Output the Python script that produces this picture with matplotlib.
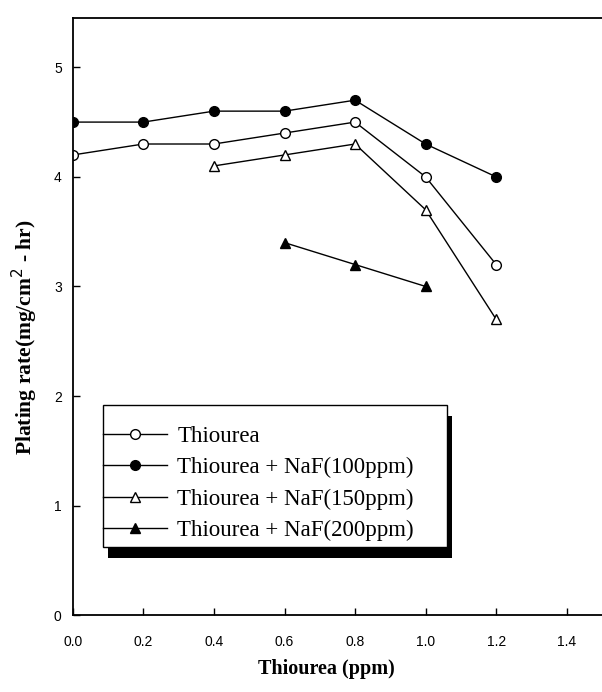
import matplotlib
matplotlib.use('Agg')
import matplotlib.pyplot as plt
from matplotlib.patches import Rectangle

x_all = [0.0, 0.2, 0.4, 0.6, 0.8, 1.0, 1.2]
thiourea = [4.2, 4.3, 4.3, 4.4, 4.5, 4.0, 3.2]
naf100 = [4.5, 4.5, 4.6, 4.6, 4.7, 4.3, 4.0]
x_150 = [0.4, 0.6, 0.8, 1.0, 1.2]
naf150 = [4.1, 4.2, 4.3, 3.7, 2.7]
x_200 = [0.6, 0.8, 1.0]
naf200 = [3.4, 3.2, 3.0]

labels = ['Thiourea', 'Thiourea + NaF(100ppm)',
          'Thiourea + NaF(150ppm)', 'Thiourea + NaF(200ppm)']

serif = ['Liberation Serif', 'DejaVu Serif']
sans = ['Liberation Sans', 'DejaVu Sans']

fig = plt.figure(figsize=(6.02, 6.92), dpi=100)
ax = fig.add_axes([0.121, 0.111, 0.879, 0.863])

style = dict(color='black', lw=1.0, ms=7, mew=1.0)
ax.plot(x_all, thiourea, marker='o', mfc='white', label=labels[0], **style)
ax.plot(x_all, naf100, marker='o', mfc='black', label=labels[1], **style)
ax.plot(x_150, naf150, marker='^', mfc='white', label=labels[2], **style)
ax.plot(x_200, naf200, marker='^', mfc='black', label=labels[3], **style)

ax.set_xlim(0, 1.5)
ax.set_ylim(0, 5.45)
ax.set_xticks([0.0, 0.2, 0.4, 0.6, 0.8, 1.0, 1.2, 1.4])
ax.set_xticklabels(['0.0', '0.2', '0.4', '0.6', '0.8', '1.0', '1.2', '1.4'])
ax.set_yticks([0, 1, 2, 3, 4, 5])
ax.tick_params(direction='in', length=5, width=1, labelsize=10)
ax.tick_params(axis='x', pad=14)
ax.tick_params(axis='y', pad=8)
for t in ax.get_xticklabels() + ax.get_yticklabels():
    t.set_family(sans)
for s in ax.spines.values():
    s.set_linewidth(1.3)
ax.spines['right'].set_visible(False)

ax.set_xlabel('Thiourea (ppm)', family=serif, fontsize=14.5, fontweight='bold')
ax.xaxis.set_label_coords(0.48, -0.073)
ax.set_ylabel('Plating rate(mg/cm$^2$ - hr)', family=serif, fontsize=15.5, fontweight='bold')
ax.yaxis.set_label_coords(-0.062, 0.465)

# legend frame + solid shadow drawn by hand (offset down-right)
fx0, fx1, fy0, fy1 = 0.0567, 0.707, 0.114, 0.352
ax.add_patch(Rectangle((fx0 + 0.0095, fy0 - 0.018), fx1 - fx0, fy1 - fy0,
                       transform=ax.transAxes, facecolor='black',
                       edgecolor='none', zorder=4))
ax.add_patch(Rectangle((fx0, fy0), fx1 - fx0, fy1 - fy0,
                       transform=ax.transAxes, facecolor='white',
                       edgecolor='black', lw=1.0, zorder=4.5))

leg = ax.legend(loc='upper left', bbox_to_anchor=(fx0, 0.317), frameon=False,
                prop={'family': serif, 'size': 16.5}, handlelength=2.8,
                handletextpad=0.45, labelspacing=0.45, borderpad=0, borderaxespad=0)
leg.set_zorder(5)

fig.savefig('out.png', dpi=100)
